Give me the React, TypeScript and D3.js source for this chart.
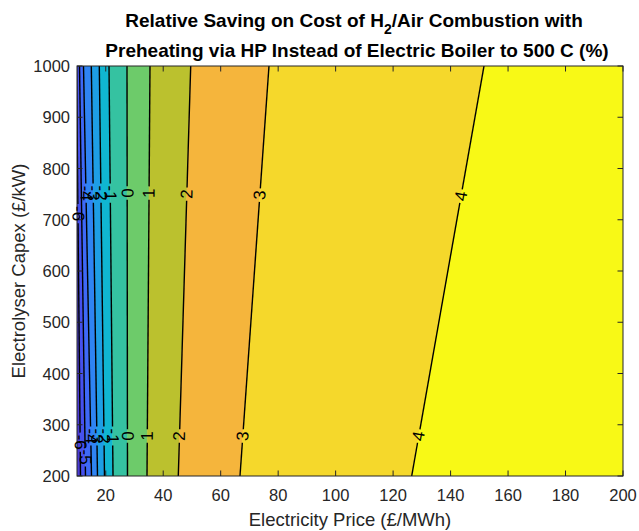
import React from "react";
import * as d3 from "d3";

// Contour levels and where each level line crosses capex = 200 and capex = 1000 (price, £/MWh)
const levels = [-6, -5, -4, -3, -2, -1, 0, 1, 2, 3, 4];
const priceAtCapex200 = [11.22, 12.96, 15.05, 17.13, 19.57, 22.53, 27.57, 34.36, 45.25, 66.72, 126.47];
const priceAtCapex1000 = [9.83, 10.87, 12.26, 14.98, 17.76, 21.14, 27.4, 35.4, 49.57, 76.81, 151.63];

// Band colours (below lowest level ... above highest level)
const bandColors = [
  "#4a3bd6", "#4651ee", "#3e69f7", "#2f84f3", "#1e9ee5", "#10b6d1",
  "#35c2a1", "#6dcb6a", "#bbc12e", "#f5b53c", "#f5d82b", "#f8f916",
];

// Contour label positions (capex values along each labelled line)
const labelLevels = [-6, -4, -3, -2, -1, 0, 1, 2, 3, 4, -6, -5, -4, -3, -2, -1, 0, 1, 2, 3, 4];
const labelCapex = [712, 752, 752, 752, 752, 752, 752, 750, 748, 746, 266, 237, 278, 278, 278, 278, 278, 278, 278, 278, 278];

const xTicks = [20, 40, 60, 80, 100, 120, 140, 160, 180, 200];
const yTicks = [200, 300, 400, 500, 600, 700, 800, 900, 1000];

const W = 639;
const H = 531;
const L = 77, R = 623, T = 66, B = 476;
const FONT = "'Liberation Sans', Arial, Helvetica, sans-serif";
const AX = "#262626";

export default function App() {
  const x = d3.scaleLinear().domain([10, 200]).range([L, R]);
  const y = d3.scaleLinear().domain([200, 1000]).range([B, T]);

  const priceAt = (i: number, c: number) =>
    priceAtCapex200[i] + ((priceAtCapex1000[i] - priceAtCapex200[i]) * (c - 200)) / 800;

  const lineGen = d3.line<[number, number]>().x((d) => x(d[0])).y((d) => y(d[1]));

  const bands = bandColors.map((col, b) => {
    const lo = (c: number) => (b === 0 ? 0 : priceAt(b - 1, c));
    const hi = (c: number) => (b === levels.length ? 220 : priceAt(b, c));
    const pts: [number, number][] = [
      [lo(180), 180],
      [lo(1020), 1020],
      [hi(1020), 1020],
      [hi(180), 180],
    ];
    return { col, d: lineGen(pts) + "Z" };
  });

  const tickFs = 16.5;
  const labFs = 17;
  const textW = (s: string) => {
    let w = 0;
    for (const ch of s) w += ch === "-" ? 0.333 : 0.556;
    return w * labFs;
  };
  const pxPerCapex = Math.abs(y(1000) - y(200)) / 800;

  const segments: { d: string }[] = [];
  levels.forEach((lv, i) => {
    const labs = labelLevels
      .map((l, k) => ({ l, c: labelCapex[k] }))
      .filter((o) => o.l === lv)
      .map((o) => {
        const half = (textW(String(lv)) / 2 + 2) / pxPerCapex;
        return [o.c - half, o.c + half];
      })
      .sort((a, b) => a[0] - b[0]);
    let start = 180;
    const cuts: [number, number][] = [];
    labs.forEach(([a, b]) => {
      cuts.push([start, a]);
      start = b;
    });
    cuts.push([start, 1020]);
    cuts.forEach(([a, b]) => {
      segments.push({ d: lineGen([[priceAt(i, a), a], [priceAt(i, b), b]]) as string });
    });
  });

  const labels = labelLevels.map((lv, k) => {
    const i = levels.indexOf(lv);
    const c = labelCapex[k];
    const px = x(priceAt(i, c));
    const py = y(c);
    const dx = x(priceAtCapex1000[i]) - x(priceAtCapex200[i]);
    const dy = y(1000) - y(200);
    let ang = (Math.atan2(dy, dx) * 180) / Math.PI;
    if (ang < -90) ang += 180;
    if (ang > 90) ang -= 180;
    return { t: String(lv), px, py, ang };
  });

  return (
    <svg
      width={W}
      height={H}
      style={{ position: "absolute", left: 0, top: 0, background: "#fff" }}
      fontFamily={FONT}
    >
      <rect x={0} y={0} width={W} height={H} fill="#fff" />
      <defs>
        <clipPath id="plotClip">
          <rect x={L} y={T} width={R - L} height={B - T} />
        </clipPath>
      </defs>
      <g clipPath="url(#plotClip)">
        {bands.map((b, k) => (
          <path key={k} d={b.d} fill={b.col} stroke={b.col} strokeWidth={0.6} />
        ))}
        {segments.map((s, k) => (
          <path key={k} d={s.d} fill="none" stroke="#000" strokeWidth={1.4} />
        ))}
      </g>

      {/* axes box */}
      <rect x={L} y={T} width={R - L} height={B - T} fill="none" stroke={AX} strokeWidth={1} />
      {xTicks.map((t) => (
        <g key={"x" + t}>
          <line x1={x(t)} x2={x(t)} y1={B} y2={B - 5.5} stroke={AX} />
          <line x1={x(t)} x2={x(t)} y1={T} y2={T + 5.5} stroke={AX} />
          <text x={x(t)} y={B + 19} fontSize={tickFs} fill={AX} textAnchor="middle" dominantBaseline="central">
            {t}
          </text>
        </g>
      ))}
      {yTicks.map((t) => (
        <g key={"y" + t}>
          <line x1={L} x2={L + 5.5} y1={y(t)} y2={y(t)} stroke={AX} />
          <line x1={R} x2={R - 5.5} y1={y(t)} y2={y(t)} stroke={AX} />
          <text x={L - 7} y={y(t)} fontSize={tickFs} fill={AX} textAnchor="end" dominantBaseline="central">
            {t}
          </text>
        </g>
      ))}

      {labels.map((lb, k) => (
        <text
          key={"lab" + k}
          x={lb.px}
          y={lb.py}
          fontSize={labFs}
          fill="#000"
          textAnchor="middle"
          dominantBaseline="central"
          transform={`rotate(${lb.ang},${lb.px},${lb.py})`}
        >
          {lb.t}
        </text>
      ))}

      <text x={(L + R) / 2} y={519} fontSize={18.5} fill={AX} textAnchor="middle" dominantBaseline="central">
        Electricity Price (£/MWh)
      </text>
      <text
        x={18}
        y={(T + B) / 2}
        fontSize={18.5}
        fill={AX}
        textAnchor="middle"
        dominantBaseline="central"
        transform={`rotate(-90,18,${(T + B) / 2})`}
      >
        Electrolyser Capex (£/kW)
      </text>

      <text x={354} y={27} fontSize={19} fontWeight="bold" fill="#000" textAnchor="middle">
        <tspan>Relative Saving on Cost of H</tspan>
        <tspan fontSize={14} dy={7}>2</tspan>
        <tspan dy={-7}>/Air Combustion with</tspan>
      </text>
      <text x={357} y={57} fontSize={19} fontWeight="bold" fill="#000" textAnchor="middle">
        Preheating via HP Instead of Electric Boiler to 500 C (%)
      </text>
    </svg>
  );
}
